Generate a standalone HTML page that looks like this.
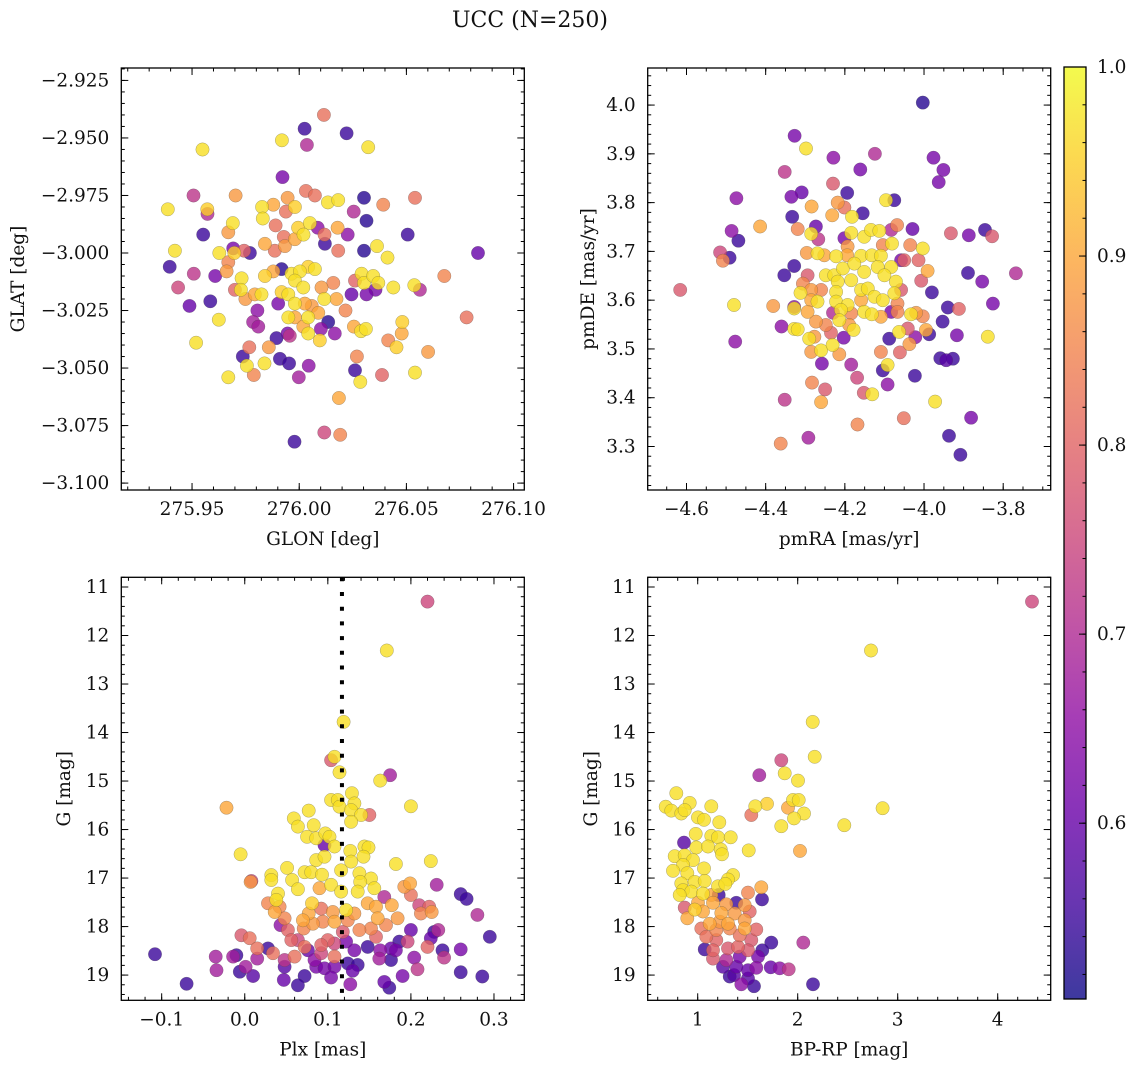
<!DOCTYPE html>
<html><head><meta charset="utf-8"><style>
html,body{margin:0;padding:0;background:#fff}
svg{display:block}
text{font-family:"DejaVu Serif","Liberation Serif",serif;fill:#111}
</style></head><body>
<svg id="fig" width="1136" height="1067" viewBox="0 0 1136 1067" xmlns="http://www.w3.org/2000/svg">
<defs>
<linearGradient id="plasmaGrad" x1="0" y1="1" x2="0" y2="0">
<stop offset="0" stop-color="#0d0887"/><stop offset="0.1" stop-color="#41049d"/><stop offset="0.2" stop-color="#6a00a8"/><stop offset="0.3" stop-color="#8f0da4"/><stop offset="0.4" stop-color="#b12a90"/><stop offset="0.5" stop-color="#cc4778"/><stop offset="0.6" stop-color="#e16462"/><stop offset="0.7" stop-color="#f2844b"/><stop offset="0.8" stop-color="#fca636"/><stop offset="0.9" stop-color="#fcce25"/><stop offset="1" stop-color="#f0f921"/>
</linearGradient>
</defs>
<text x="530" y="27" font-size="22" text-anchor="middle">UCC (N=250)</text>
</svg>
<script>
// ---------- DATA ----------
const glon = [276.0115,276.0025,276.0221,275.9919,276.0036,275.9549,276.0322,275.9922,275.9507,275.9703,276.0031,276.0073,275.9946,276.0302,276.0392,276.054,275.9387,275.9571,275.9572,275.9827,275.9879,275.998,276.0134,276.0182,275.9938,276.0254,276.0314,275.983,275.969,275.9669,275.9552,275.989,275.9995,276.005,276.0086,276.0118,276.0179,276.0226,276.002,275.9928,276.0506,275.942,275.9627,275.9692,275.9743,275.977,275.984,275.9886,275.9933,275.998,276.012,276.0182,276.0302,276.0363,276.0412,276.0834,275.9396,275.9508,275.9608,275.9661,275.9669,275.9697,275.9731,275.97,275.9728,275.9749,275.9793,275.9824,275.984,275.9879,275.9918,275.9964,276.0003,276.0042,276.0073,275.998,276.0019,275.9949,275.9918,275.9902,275.998,276.0026,276.0058,276.0104,276.0117,276.0159,276.0174,276.0216,276.0244,276.026,276.0291,276.0302,276.0345,276.0356,276.0314,276.0369,276.0439,276.0537,276.0563,276.0677,275.9435,275.9488,275.9585,275.9625,275.9805,275.9785,275.9809,275.9949,275.998,276.0042,276.0089,276.0101,276.0135,276.0166,276.0019,276.0042,276.0096,275.9946,275.9956,275.9894,276.0255,276.0288,276.0311,276.0481,276.0478,276.0415,276.0454,276.0601,276.0781,275.9519,275.9767,275.9858,275.9737,275.9756,275.9788,275.9838,275.991,275.9953,276.0044,275.9998,276.0269,276.026,276.0285,276.0386,276.054,275.9669,276.0185,275.9978,276.0117,276.0191];
const glat = [-2.940,-2.946,-2.948,-2.951,-2.953,-2.955,-2.954,-2.967,-2.975,-2.975,-2.973,-2.975,-2.976,-2.976,-2.979,-2.976,-2.981,-2.981,-2.983,-2.980,-2.979,-2.980,-2.978,-2.977,-2.982,-2.982,-2.986,-2.985,-2.987,-2.991,-2.992,-2.988,-2.989,-2.987,-2.989,-2.992,-2.989,-2.992,-2.992,-2.993,-2.992,-2.999,-3.000,-2.998,-2.999,-3.000,-2.996,-2.999,-2.997,-2.994,-2.996,-2.999,-2.999,-2.997,-3.002,-3.000,-3.006,-3.009,-3.010,-3.008,-3.004,-3.000,-3.011,-3.016,-3.016,-3.020,-3.018,-3.018,-3.010,-3.008,-3.007,-3.009,-3.008,-3.006,-3.007,-3.012,-3.015,-3.018,-3.017,-3.022,-3.022,-3.022,-3.023,-3.015,-3.020,-3.013,-3.020,-3.025,-3.018,-3.012,-3.009,-3.013,-3.010,-3.016,-3.018,-3.013,-3.015,-3.014,-3.016,-3.010,-3.015,-3.023,-3.021,-3.029,-3.025,-3.030,-3.032,-3.028,-3.028,-3.028,-3.026,-3.033,-3.030,-3.035,-3.032,-3.035,-3.038,-3.035,-3.036,-3.037,-3.032,-3.034,-3.033,-3.030,-3.035,-3.038,-3.041,-3.043,-3.028,-3.039,-3.041,-3.041,-3.045,-3.049,-3.053,-3.048,-3.046,-3.048,-3.049,-3.054,-3.045,-3.051,-3.056,-3.053,-3.052,-3.054,-3.063,-3.082,-3.078,-3.079];
const prob1 = [.82,.55,.55,.97,.7,.97,.97,.62,.72,.88,.82,.82,.88,.53,.85,.82,.97,.95,.7,.97,.9,.95,.97,.97,.82,.7,.53,.97,.97,.88,.55,.82,.95,.97,.65,.82,.9,.65,.97,.82,.55,.97,.97,.62,.8,.55,.9,.82,.88,.9,.55,.82,.53,.97,.97,.6,.55,.72,.62,.88,.85,.95,.97,.8,.97,.88,.9,.97,.95,.9,.53,.97,.97,.95,.97,.97,.97,.97,.95,.62,.97,.9,.88,.88,.97,.85,.9,.85,.6,.8,.97,.97,.97,.62,.62,.97,.97,.97,.7,.85,.75,.6,.55,.97,.65,.68,.68,.97,.9,.97,.9,.65,.53,.65,.9,.97,.95,.62,.72,.55,.9,.97,.97,.95,.9,.85,.95,.88,.82,.97,.82,.88,.55,.97,.85,.97,.55,.55,.65,.68,.85,.55,.97,.8,.97,.97,.9,.55,.75,.85];

const pmra = [-4.003,-4.327,-4.298,-4.229,-4.124,-3.976,-3.951,-3.963,-4.352,-4.161,-4.230,-4.194,-4.474,-4.335,-4.309,-4.284,-4.218,-4.201,-4.232,-4.155,-4.096,-4.075,-4.333,-4.182,-4.414,-4.319,-4.273,-4.486,-4.469,-4.285,-4.267,-4.201,-4.184,-4.151,-4.134,-4.113,-4.083,-4.068,-4.029,-3.932,-3.887,-3.846,-3.828,-4.515,-4.508,-4.491,-4.296,-4.269,-4.252,-4.222,-4.193,-4.194,-4.159,-4.132,-4.109,-4.081,-4.104,-4.035,-4.003,-4.058,-4.050,-4.014,-4.083,-3.991,-4.007,-3.889,-3.853,-3.768,-4.328,-4.353,-4.294,-4.248,-4.227,-4.205,-4.176,-4.151,-4.117,-4.100,-4.071,-4.058,-4.075,-4.184,-4.218,-4.159,-4.142,-4.125,-4.616,-4.306,-4.312,-4.285,-4.260,-4.222,-4.269,-4.285,-4.222,-4.193,-4.159,-4.104,-4.067,-3.980,-4.480,-4.381,-4.328,-4.328,-4.294,-4.230,-4.210,-4.184,-4.151,-4.132,-4.109,-4.083,-4.067,-4.033,-4.020,-4.003,-3.940,-3.912,-3.826,-4.360,-4.328,-4.319,-4.273,-4.248,-4.214,-4.189,-4.178,-4.235,-4.203,-4.063,-4.041,-3.995,-3.987,-3.953,-3.917,-3.839,-4.477,-4.290,-4.277,-4.260,-4.231,-4.214,-4.285,-4.088,-4.037,-4.109,-4.061,-4.022,-4.258,-4.184,-4.092,-4.104,-3.959,-3.944,-3.927,-4.023,-4.169,-4.092,-4.283,-4.250,-4.260,-4.152,-4.131,-3.972,-4.352,-4.051,-3.881,-4.168,-4.292,-4.362,-3.937,-3.908];
const pmde = [4.005,3.937,3.911,3.892,3.900,3.892,3.867,3.842,3.863,3.868,3.839,3.820,3.809,3.812,3.821,3.792,3.800,3.790,3.774,3.778,3.805,3.805,3.771,3.771,3.751,3.746,3.751,3.742,3.722,3.736,3.725,3.727,3.738,3.730,3.744,3.742,3.744,3.754,3.746,3.737,3.733,3.744,3.731,3.698,3.681,3.687,3.697,3.696,3.692,3.690,3.710,3.692,3.691,3.692,3.691,3.716,3.713,3.713,3.706,3.682,3.682,3.682,3.668,3.660,3.640,3.656,3.638,3.655,3.670,3.651,3.651,3.651,3.651,3.665,3.675,3.658,3.668,3.651,3.638,3.621,3.614,3.641,3.638,3.621,3.624,3.607,3.621,3.634,3.615,3.621,3.621,3.617,3.597,3.600,3.597,3.590,3.600,3.600,3.593,3.616,3.590,3.588,3.586,3.583,3.576,3.574,3.580,3.573,3.576,3.571,3.566,3.576,3.576,3.571,3.574,3.567,3.585,3.582,3.593,3.546,3.541,3.540,3.556,3.549,3.559,3.549,3.539,3.533,3.523,3.535,3.542,3.539,3.530,3.556,3.528,3.525,3.515,3.521,3.525,3.497,3.508,3.489,3.494,3.521,3.510,3.494,3.493,3.524,3.470,3.468,3.467,3.456,3.481,3.477,3.480,3.445,3.441,3.427,3.431,3.417,3.391,3.410,3.407,3.392,3.396,3.358,3.359,3.345,3.318,3.306,3.322,3.283];
const prob2 = [.53,.62,.97,.65,.7,.62,.62,.62,.72,.62,.78,.55,.65,.62,.6,.9,.88,.82,.9,.55,.97,.55,.55,.97,.9,.85,.6,.65,.55,.97,.72,.62,.97,.97,.97,.97,.7,.85,.6,.78,.62,.55,.78,.75,.85,.55,.88,.97,.9,.97,.88,.9,.97,.97,.97,.97,.85,.85,.97,.62,.8,.8,.97,.9,.78,.55,.62,.7,.55,.55,.78,.97,.97,.97,.97,.97,.97,.97,.97,.78,.97,.97,.97,.97,.97,.97,.78,.85,.97,.88,.85,.97,.97,.9,.97,.97,.9,.97,.85,.55,.97,.88,.65,.97,.9,.7,.97,.85,.97,.97,.9,.62,.85,.97,.88,.85,.55,.8,.62,.65,.97,.97,.88,.85,.97,.88,.97,.8,.62,.97,.78,.9,.55,.55,.62,.97,.65,.97,.88,.97,.97,.88,.88,.55,.88,.85,.8,.65,.62,.68,.97,.55,.55,.58,.55,.55,.75,.65,.85,.78,.9,.78,.97,.97,.72,.82,.62,.85,.68,.85,.55,.55];

const plx = [0.220,0.171,0.119,0.104,0.108,0.114,0.175,0.163,-0.022,0.200,0.129,0.104,0.112,0.114,0.132,0.128,0.150,0.140,0.128,0.077,0.059,0.064,0.083,0.075,0.086,0.097,0.102,0.096,-0.005,0.108,0.127,0.144,0.149,0.143,0.086,0.096,0.128,0.182,0.224,0.051,0.072,0.080,0.093,0.032,0.032,0.057,0.116,0.138,0.152,0.139,0.008,0.007,0.104,0.090,0.064,0.040,0.038,0.116,0.136,0.156,0.192,0.199,0.231,0.168,0.200,0.260,0.267,0.028,0.042,0.081,0.077,0.092,0.106,0.122,0.132,0.148,0.158,0.177,0.210,0.222,0.036,0.048,0.184,0.212,0.225,0.280,0.070,0.082,0.094,0.108,0.124,0.160,0.170,0.152,0.043,0.052,0.071,0.118,0.138,-0.004,0.006,0.200,0.228,0.233,0.295,0.056,0.064,0.100,0.092,0.108,0.122,0.158,0.186,0.196,0.224,0.220,0.015,0.028,0.034,0.072,0.060,0.076,0.108,0.092,0.132,0.148,0.163,0.176,0.182,0.238,0.260,-0.108,-0.035,-0.014,-0.010,0.015,0.048,0.084,0.086,0.096,0.108,0.124,0.136,0.162,0.176,0.204,0.240,-0.034,-0.006,0.001,0.010,0.048,0.072,0.104,0.130,0.208,0.190,0.260,0.286,-0.070,0.047,0.064,0.127,0.168,0.174];
const gmag3 = [11.30,12.31,13.78,14.57,14.50,14.82,14.88,14.99,15.55,15.52,15.25,15.39,15.39,15.53,15.46,15.60,15.70,15.70,15.84,15.61,15.77,15.94,15.91,16.15,16.18,16.08,16.15,16.32,16.51,16.35,16.44,16.35,16.37,16.56,16.63,16.56,16.66,16.71,16.65,16.79,16.88,16.88,16.93,16.94,17.04,17.04,16.84,16.90,17.01,17.08,17.06,17.08,17.14,17.21,17.23,17.32,17.45,17.28,17.28,17.21,17.18,17.11,17.14,17.39,17.35,17.33,17.43,17.52,17.59,17.52,17.73,17.63,17.70,17.66,17.73,17.52,17.59,17.56,17.56,17.59,17.70,17.83,17.83,17.73,17.70,17.76,17.87,17.94,17.90,17.90,17.87,17.83,17.97,18.04,17.97,18.07,18.04,18.11,18.07,18.18,18.24,18.07,18.11,18.07,18.21,18.28,18.28,18.28,18.38,18.35,18.31,18.21,18.31,18.31,18.24,18.42,18.45,18.45,18.55,18.42,18.62,18.49,18.62,18.55,18.49,18.42,18.49,18.45,18.49,18.49,18.47,18.57,18.62,18.62,18.59,18.66,18.69,18.69,18.83,18.86,18.83,18.76,18.79,18.66,18.69,18.64,18.64,18.90,18.93,18.83,19.02,18.83,19.02,19.05,18.91,18.88,19.02,18.94,19.03,19.18,19.10,19.21,19.19,19.14,19.26];
const prob3 = [.75,.97,.97,.78,.97,.97,.68,.97,.9,.97,.97,.97,.97,.97,.97,.97,.8,.97,.97,.97,.97,.97,.97,.97,.97,.97,.97,.6,.97,.97,.97,.97,.97,.97,.97,.97,.97,.97,.97,.97,.97,.97,.97,.97,.97,.97,.97,.97,.97,.97,.75,.88,.97,.9,.97,.97,.97,.97,.97,.97,.88,.9,.68,.7,.82,.55,.55,.85,.85,.95,.9,.82,.88,.97,.88,.9,.9,.9,.75,.8,.9,.85,.88,.85,.88,.7,.9,.88,.85,.9,.85,.9,.85,.85,.65,.8,.85,.78,.85,.78,.82,.6,.55,.7,.55,.8,.75,.8,.8,.75,.62,.8,.55,.75,.6,.8,.82,.55,.82,.82,.82,.6,.82,.75,.62,.55,.65,.6,.62,.55,.62,.55,.68,.68,.55,.68,.72,.65,.62,.62,.62,.55,.55,.68,.55,.65,.72,.68,.55,.68,.58,.58,.55,.62,.6,.72,.62,.55,.55,.55,.6,.55,.65,.6,.55];

const bprp = [4.343,2.733,2.150,2.170,1.836,1.616,1.870,2.003,0.786,0.920,0.680,0.736,0.836,0.870,1.136,1.003,1.063,1.216,1.576,1.693,1.536,1.903,1.953,2.010,2.063,1.963,1.836,2.466,2.849,0.980,1.136,1.203,1.330,0.863,0.986,1.103,1.230,1.243,1.510,2.023,0.770,0.870,0.953,0.853,1.063,0.753,0.896,1.353,1.303,0.836,0.970,1.070,1.203,1.276,1.636,0.853,0.936,1.053,0.820,1.136,1.503,1.210,1.643,1.386,1.003,1.153,1.286,1.470,0.870,0.970,1.053,1.236,1.370,1.520,0.896,1.120,1.220,1.303,1.470,1.036,1.186,1.320,1.470,1.586,1.086,1.186,1.420,1.536,1.736,2.056,1.070,1.153,1.303,1.403,1.503,1.646,1.153,1.286,1.420,1.603,1.253,1.386,1.503,1.586,1.730,1.820,1.910,1.320,1.363,1.503,1.436,1.563,2.153];
const gmag4 = [11.30,12.31,13.78,14.50,14.57,14.88,14.84,14.99,15.25,15.45,15.53,15.61,15.67,15.60,15.52,15.75,15.80,15.85,15.52,15.47,15.70,15.55,15.39,15.39,15.67,15.77,15.93,15.91,15.56,16.09,16.13,16.16,16.16,16.27,16.37,16.35,16.41,16.51,16.43,16.44,16.55,16.53,16.63,16.73,16.80,16.85,16.90,16.94,17.03,17.11,17.08,17.06,17.17,17.12,17.19,17.25,17.28,17.32,17.35,17.35,17.30,17.35,17.44,17.51,17.51,17.51,17.54,17.56,17.61,17.65,17.69,17.72,17.73,17.69,17.83,17.94,17.90,17.94,17.87,18.04,18.07,18.04,18.04,18.06,18.21,18.28,18.18,18.28,18.33,18.33,18.47,18.49,18.45,18.42,18.49,18.49,18.66,18.69,18.62,18.62,18.83,18.83,18.90,18.85,18.84,18.86,18.88,19.03,19.00,19.07,19.19,19.23,19.19];
const prob4 = [.75,.97,.97,.97,.75,.68,.97,.97,.97,.97,.97,.97,.97,.97,.97,.97,.97,.97,.97,.95,.82,.9,.97,.97,.97,.97,.97,.97,.97,.97,.97,.97,.97,.58,.97,.97,.97,.97,.97,.9,.97,.97,.97,.97,.97,.97,.97,.97,.97,.97,.97,.97,.97,.97,.9,.97,.97,.97,.97,.9,.85,.55,.55,.55,.9,.9,.88,.88,.78,.95,.9,.9,.88,.8,.9,.9,.88,.9,.88,.82,.85,.85,.9,.8,.82,.8,.82,.78,.55,.7,.55,.8,.78,.8,.78,.55,.78,.7,.62,.62,.58,.6,.6,.65,.6,.65,.72,.55,.58,.58,.65,.55,.55];

const plxMedian = [0.117];

const p1XTicks = [275.95,276.00,276.05,276.10];
const p1YTicks = [-2.925,-2.950,-2.975,-3.000,-3.025,-3.050,-3.075,-3.100];
const p2XTicks = [-4.6,-4.4,-4.2,-4.0,-3.8];
const p2YTicks = [3.3,3.4,3.5,3.6,3.7,3.8,3.9,4.0];
const p3XTicks = [-0.1,0.0,0.1,0.2,0.3];
const gTicks = [11,12,13,14,15,16,17,18,19];
const p4XTicks = [1,2,3,4];
const cbTicks = [0.6,0.7,0.8,0.9,1.0];
const cbMin = 0.507, cbMax = 1.0;

// ---------- RENDER ----------
const NS = 'http://www.w3.org/2000/svg';
const svg = document.getElementById('fig');
const FS = 18.5;
function mk(tag, attrs, parent) {
  const e = document.createElementNS(NS, tag);
  for (const k in attrs) e.setAttribute(k, attrs[k]);
  (parent || svg).appendChild(e);
  return e;
}
const plasma = ['#0d0887','#41049d','#6a00a8','#8f0da4','#b12a90','#cc4778','#e16462','#f2844b','#fca636','#fcce25','#f0f921'];
function hex(h){return [parseInt(h.slice(1,3),16),parseInt(h.slice(3,5),16),parseInt(h.slice(5,7),16)];}
function cmap(p) {
  let t = (p - cbMin) / (cbMax - cbMin); t = Math.max(0, Math.min(1, t));
  const f = t * 10, i = Math.min(9, Math.floor(f)), r = f - i;
  const a = hex(plasma[i]), b = hex(plasma[i + 1]);
  return 'rgb(' + a.map((v, k) => Math.round(v + (b[k] - v) * r)).join(',') + ')';
}
function fmt(v, d) { const s = Math.abs(v).toFixed(d); return (v < -1e-9 ? '\u2212' : '') + s; }

function panel(cfg) {
  const { name, L, R, T, B, x0, x1, y0, y1, yInv } = cfg;
  const sx = v => L + (v - x0) / (x1 - x0) * (R - L);
  const sy = yInv ? (v => T + (v - y0) / (y1 - y0) * (B - T)) : (v => B - (v - y0) / (y1 - y0) * (B - T));
  const g = mk('g', {});
  
  
  const clipId = name + '-clip';
  const cp = mk('clipPath', { id: clipId }, g);
  mk('rect', { x: L, y: T, width: R - L, height: B - T }, cp);
  const pts = mk('g', { 'clip-path': 'url(#' + clipId + ')' }, g);
  
  
  const idx = cfg.xs.map((_, i) => i).sort((a, b) => cfg.ps[a] - cfg.ps[b]);
  idx.forEach(i => {
    const c = mk('circle', { cx: sx(cfg.xs[i]).toFixed(1), cy: sy(cfg.ys[i]).toFixed(1), r: 6.7, fill: cmap(cfg.ps[i]), 'fill-opacity': 0.8, stroke: 'rgba(70,70,70,0.45)', 'stroke-width': 0.5 }, pts);
    
    
  });
  if (cfg.vline) {
    cfg.vline.forEach(v => {
      const ln = mk('line', { x1: sx(v), x2: sx(v), y1: T, y2: B, stroke: '#000', 'stroke-width': 4, 'stroke-dasharray': '4 10.7' }, g);
      
      
    });
  }
  const tg = mk('g', { stroke: '#000', 'stroke-width': 1 }, g);
  function xt(v, len) { const x = sx(v); if (x < L - 0.5 || x > R + 0.5) return; mk('line', { x1: x, x2: x, y1: B, y2: B - len }, tg); mk('line', { x1: x, x2: x, y1: T, y2: T + len }, tg); }
  function yt(v, len) { const y = sy(v); if (y < T - 0.5 || y > B + 0.5) return; mk('line', { x1: L, x2: L + len, y1: y, y2: y }, tg); mk('line', { x1: R, x2: R - len, y1: y, y2: y }, tg); }
  const xm0 = Math.ceil(Math.min(x0, x1) / cfg.xMinor - 1e-6), xm1 = Math.floor(Math.max(x0, x1) / cfg.xMinor + 1e-6);
  for (let k = xm0; k <= xm1; k++) xt(k * cfg.xMinor, 3.5);
  const ymin = Math.min(y0, y1), ymax = Math.max(y0, y1);
  for (let k = Math.ceil(ymin / cfg.yMinor - 1e-6); k <= Math.floor(ymax / cfg.yMinor + 1e-6); k++) yt(k * cfg.yMinor, 3.5);
  cfg.xTicks.forEach(v => {
    xt(v, 7);
    const t = mk('text', { x: sx(v), y: B + 25, 'font-size': FS, 'text-anchor': 'middle' }, g);
    t.textContent = fmt(v, cfg.xDec);
    
    
  });
  cfg.yTicks.forEach(v => {
    yt(v, 7);
    const t = mk('text', { x: L - 12, y: sy(v) + 6, 'font-size': FS, 'text-anchor': 'end' }, g);
    t.textContent = fmt(v, cfg.yDec);
    
    
  });
  const fr = mk('rect', { x: L, y: T, width: R - L, height: B - T, fill: 'none', stroke: '#000', 'stroke-width': 1.3 }, g);
  
  
  const xl = mk('text', { x: (L + R) / 2, y: B + 55, 'font-size': FS, 'text-anchor': 'middle' }, g);
  xl.textContent = cfg.xLabel;
  
  
  const yl = mk('text', { x: 0, y: 0, 'font-size': FS, 'text-anchor': 'middle', transform: 'translate(' + cfg.yLabelX + ',' + (T + B) / 2 + ') rotate(-90)' }, g);
  yl.textContent = cfg.yLabel;
  
  
}

panel({ name: 'glon-glat-panel', L: 121.3, R: 524.3, T: 68, B: 490, x0: 275.917, x1: 276.105, y0: -3.1030, y1: -2.9196,
  xs: glon, ys: glat, ps: prob1, xTicks: p1XTicks, yTicks: p1YTicks, xMinor: 0.01, yMinor: 0.005, xDec: 2, yDec: 3,
  xLabel: 'GLON [deg]', yLabel: 'GLAT [deg]', yLabelX: 24 });
panel({ name: 'pm-panel', L: 647.7, R: 1050.7, T: 68, B: 490, x0: -4.698, x1: -3.680, y0: 3.2108, y1: 4.076,
  xs: pmra, ys: pmde, ps: prob2, xTicks: p2XTicks, yTicks: p2YTicks, xMinor: 0.05, yMinor: 0.02, xDec: 1, yDec: 1,
  xLabel: 'pmRA [mas/yr]', yLabel: 'pmDE [mas/yr]', yLabelX: 594 });
panel({ name: 'plx-g-panel', L: 121.3, R: 524.3, T: 577.3, B: 1000.3, x0: -0.1486, x1: 0.3365, y0: 10.80, y1: 19.52, yInv: true,
  xs: plx, ys: gmag3, ps: prob3, xTicks: p3XTicks, yTicks: gTicks, xMinor: 0.02, yMinor: 0.2, xDec: 1, yDec: 0,
  xLabel: 'Plx [mas]', yLabel: 'G [mag]', yLabelX: 70, vline: plxMedian });
panel({ name: 'cmd-panel', L: 647.7, R: 1050.7, T: 577.3, B: 1000.3, x0: 0.5, x1: 4.53, y0: 10.80, y1: 19.52, yInv: true,
  xs: bprp, ys: gmag4, ps: prob4, xTicks: p4XTicks, yTicks: gTicks, xMinor: 0.2, yMinor: 0.2, xDec: 0, yDec: 0,
  xLabel: 'BP-RP [mag]', yLabel: 'G [mag]', yLabelX: 597 });

(function () {
  const L = 1064, R = 1086, T = 67, B = 999;
  const sy = v => B - (v - cbMin) / (cbMax - cbMin) * (B - T);
  const g = mk('g', {});
  
  
  mk('rect', { x: L, y: T, width: R - L, height: B - T, fill: 'url(#plasmaGrad)', opacity: 0.8 }, g);
  const tg = mk('g', { stroke: '#000', 'stroke-width': 1 }, g);
  for (let k = Math.ceil(cbMin / 0.02); k <= Math.floor(cbMax / 0.02 + 1e-6); k++) { const y = sy(k * 0.02); mk('line', { x1: R, x2: R - 3.5, y1: y, y2: y }, tg); }
  cbTicks.forEach(v => {
    const y = sy(v);
    mk('line', { x1: R, x2: R - 7, y1: y, y2: y }, tg);
    const t = mk('text', { x: R + 11, y: y + 6, 'font-size': FS }, g);
    t.textContent = v.toFixed(1);
    
    
  });
  mk('rect', { x: L, y: T, width: R - L, height: B - T, fill: 'none', stroke: '#000', 'stroke-width': 1.3 }, g);
})();
</script>
</body></html>
